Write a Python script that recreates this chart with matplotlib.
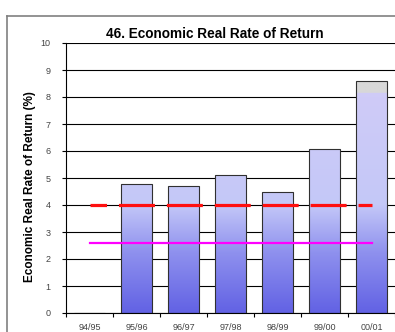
import numpy as np
import matplotlib.pyplot as plt
from matplotlib.colors import LinearSegmentedColormap
from matplotlib.patches import Rectangle

years = ["94/95", "95/96", "96/97", "97/98", "98/99", "99/00", "00/01"]
rate = [0, 4.78, 4.69, 5.1, 4.5, 6.06, 8.6]
target = [4.0] * 7
average = [2.6] * 7

plt.rcParams['font.family'] = ['Liberation Sans', 'DejaVu Sans']

fig = plt.figure(figsize=(3.95, 3.32), dpi=100)
ax = fig.add_axes([66/395, 19/332, 329/395, 270/332])

x = np.arange(len(years))

# colour ramp along the value axis, grey above 8.15
cmap = LinearSegmentedColormap.from_list(
    "ramp",
    [(0.0, "#6262e4"), (0.22, "#8e90ee"), (0.4, "#c4c8f8"),
     (0.8, "#cfcbf7"), (0.814, "#d0ccf7"), (0.816, "#d8d8d8"), (1.0, "#d8d8d8")])
grad = np.linspace(0, 1, 256).reshape(-1, 1)

bars = ax.bar(x, rate, width=0.67, facecolor="none", edgecolor="#303030",
              linewidth=0.8, zorder=3)
for b in bars:
    if b.get_height() <= 0:
        continue
    x0, w, h = b.get_x(), b.get_width(), b.get_height()
    im = ax.imshow(grad, cmap=cmap, origin="lower", aspect="auto",
                   extent=[x0, x0 + w, 0, 10], zorder=2, vmin=0, vmax=1)
    im.set_clip_path(Rectangle((x0, 0), w, h, transform=ax.transData))

# red dashed target and magenta average
ax.plot(x, target, color="#ff1010", lw=2.3, zorder=4,
        linestyle=(14 / 2.3, (25.9 / 2.3, 8.6 / 2.3)))
ax.plot(x, average, color="#ff00ff", lw=1.6, zorder=4)

ax.set_xlim(-0.5, 6.5)
ax.set_ylim(0, 10)
ax.set_yticks(range(11))
ax.yaxis.grid(True, color="black", lw=0.8)
ax.set_axisbelow(True)
ax.set_xticks(x)
ax.set_xticklabels(years, fontsize=6.5, color="#444444")
ax.set_xticks(np.arange(-0.5, 7, 1), minor=True)
ax.tick_params(axis="x", which="major", length=0, pad=7)
ax.tick_params(axis="x", which="minor", length=3, direction="out", width=0.8)
ax.tick_params(axis="y", labelsize=6.5, labelcolor="#444444", length=3, width=0.8, pad=8)

for s in ["top", "right"]:
    ax.spines[s].set_visible(False)
ax.spines["left"].set_linewidth(0.8)
ax.spines["bottom"].set_linewidth(0.8)

fig.text(215/395, 1 - 34/332, "46. Economic Real Rate of Return", fontsize=9.8,
         fontweight="bold", ha="center", va="center")
ax.set_ylabel("Economic Real Rate of Return (%)", fontsize=8.5, fontweight="bold")
ax.yaxis.set_label_coords(-0.09, 0.47)

# outer chart border
fig.add_artist(plt.Line2D([7/395, 7/395], [0, 1 - 16/332], color="#808080", lw=1.2))
fig.add_artist(plt.Line2D([7/395, 1], [1 - 16/332, 1 - 16/332], color="#808080", lw=1.2))

fig.savefig("out.png", dpi=100)
